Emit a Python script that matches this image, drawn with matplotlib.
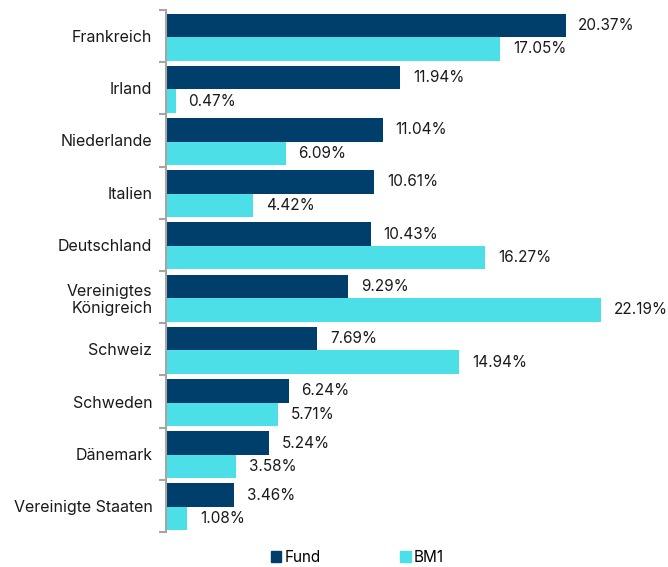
import numpy as np
import matplotlib.pyplot as plt
from matplotlib.patches import Patch

plt.rcParams["font.family"] = ["Inter", "DejaVu Sans"]

countries = [
    "Frankreich", "Irland", "Niederlande", "Italien", "Deutschland",
    "Vereinigtes\nKönigreich", "Schweiz", "Schweden", "Dänemark",
    "Vereinigte Staaten",
]
fund = [20.37, 11.94, 11.04, 10.61, 10.43, 9.29, 7.69, 6.24, 5.24, 3.46]
bm1 = [17.05, 0.47, 6.09, 4.42, 16.27, 22.19, 14.94, 5.71, 3.58, 1.08]

FUND_COLOR = "#003F6B"
BM_COLOR = "#4DDFE8"
AXIS_COLOR = "#A6A6A6"

fig = plt.figure(figsize=(6.68, 5.67), dpi=100)
ax = fig.add_axes([0.249, 0.0617, 0.751, 0.9207])

y = np.arange(len(countries))
h = 0.45
shift = 0.02
ax.barh(y - h / 2 + shift, fund, height=h, color=FUND_COLOR)
ax.barh(y + h / 2 + shift, bm1, height=h, color=BM_COLOR)

for yi, v in zip(y, fund):
    ax.text(v + 0.65, yi - h / 2 + shift, f"{v:.2f}%", va="center", ha="left",
            fontsize=11, color="#1a1a1a")
for yi, v in zip(y, bm1):
    ax.text(v + 0.65, yi + h / 2 + shift, f"{v:.2f}%", va="center", ha="left",
            fontsize=11, color="#1a1a1a")

ax.set_ylim(len(countries) - 0.5, -0.5)
ax.set_xlim(0, 25.6)

# group boundaries as major ticks, names on minor ticks
ax.set_yticks(np.arange(-0.5, len(countries), 1.0))
ax.set_yticklabels([])
ax.set_yticks(y, minor=True)
ax.set_yticklabels(countries, minor=True, fontsize=11.5, color="#1a1a1a")
ax.tick_params(axis="y", which="major", length=5, width=1.5, color=AXIS_COLOR)
ax.tick_params(axis="y", which="minor", length=0, pad=10)
ax.set_xticks([])

for side in ["top", "right", "bottom"]:
    ax.spines[side].set_visible(False)
ax.spines["left"].set_color(AXIS_COLOR)
ax.spines["left"].set_linewidth(1.5)

handles = [Patch(color=FUND_COLOR, label="Fund"), Patch(color=BM_COLOR, label="BM1")]
fig.legend(handles=handles, loc="center", bbox_to_anchor=(0.535, 0.017), ncol=2,
           frameon=False, fontsize=11, handlelength=0.7, handleheight=0.7,
           handletextpad=0.2, columnspacing=5.2)

fig.savefig("out.png", dpi=100)
